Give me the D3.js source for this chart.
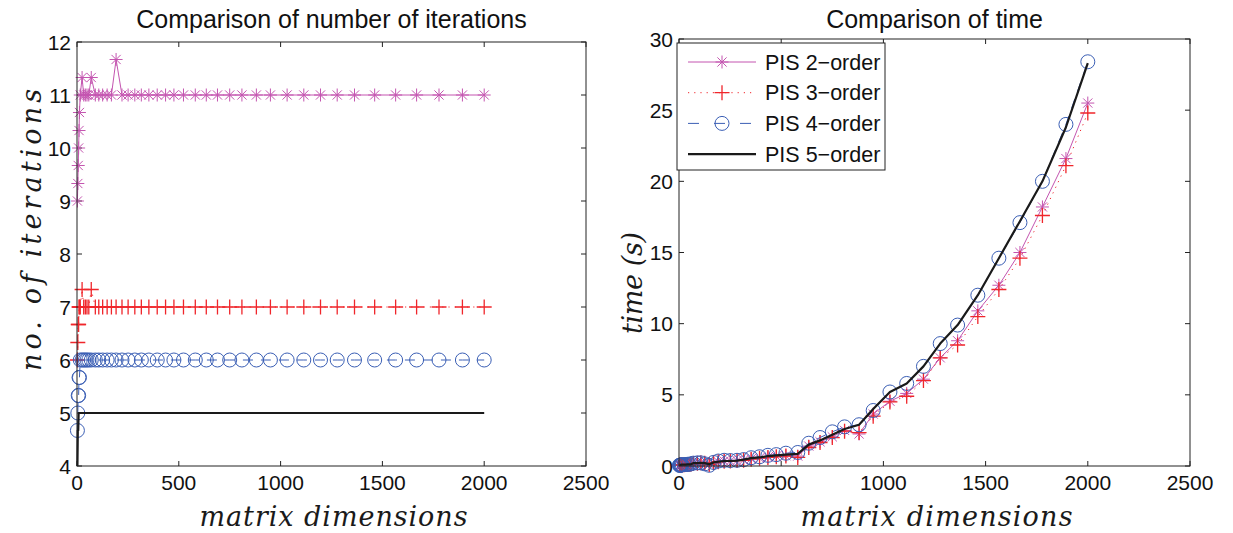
<!DOCTYPE html>
<html>
<head>
  <meta charset="utf-8">
  <title>PIS comparison</title>
  <script src="https://d3js.org/d3.v7.min.js"></script>
  <style>
    body { margin: 0; background: #fff; }
    text { font-family: "Liberation Sans", Arial, sans-serif; fill: #111; }
    .lab { font-family: "DejaVu Serif", "Liberation Serif", serif; font-style: italic; font-size: 27px; fill: #1a1a1a; }
    .tick { font-size: 21px; }
    .leg { font-size: 21.5px; }
    .title { font-size: 25px; }
  </style>
</head>
<body>
  <script>
    // matrix dimensions used in both plots
    var dims = [2, 4, 6, 8, 10, 12, 16, 25, 33, 41, 49, 58, 70, 90, 107, 126, 148, 169, 192,
                221, 251, 284, 316, 353, 394, 435, 476, 523, 581, 635, 690, 750, 810, 881, 950,
                1032, 1114, 1196, 1278, 1363, 1462, 1565, 1668, 1778, 1893, 2000];

    // number of iterations
    var iter2 = [9, 9.33, 9.67, 10, 10.33, 10.67, 11, 11.33, 11, 11, 11, 11, 11.33, 11, 11, 11, 11, 11, 11.67,
                 11, 11, 11, 11, 11, 11, 11, 11, 11, 11, 11, 11, 11, 11, 11, 11,
                 11, 11, 11, 11, 11, 11, 11, 11, 11, 11, 11];
    var iter3 = [6, 6.33, 6.67, 6.67, 7, 7, 7, 7.33, 7, 7, 7, 7, 7.33, 7, 7, 7, 7, 7, 7,
                 7, 7, 7, 7, 7, 7, 7, 7, 7, 7, 7, 7, 7, 7, 7, 7,
                 7, 7, 7, 7, 7, 7, 7, 7, 7, 7, 7];
    var iter4 = [4.67, 5, 5.33, 5.33, 5.67, 5.67, 6, 6, 6, 6, 6, 6, 6, 6, 6, 6, 6, 6, 6,
                 6, 6, 6, 6, 6, 6, 6, 6, 6, 6, 6, 6, 6, 6, 6, 6,
                 6, 6, 6, 6, 6, 6, 6, 6, 6, 6, 6];
    var iter5 = [4, 4.67, 4.67, 5, 5, 5, 5, 5, 5, 5, 5, 5, 5, 5, 5, 5, 5, 5, 5,
                 5, 5, 5, 5, 5, 5, 5, 5, 5, 5, 5, 5, 5, 5, 5, 5,
                 5, 5, 5, 5, 5, 5, 5, 5, 5, 5, 5];

    // time (s)
    var time2 = [0.05, 0.05, 0.05, 0.06, 0.06, 0.07, 0.08, 0.08, 0.1, 0.1, 0.1, 0.12, 0.18, 0.2, 0.22, 0.2, 0.1, 0.22, 0.3,
                 0.35, 0.35, 0.38, 0.42, 0.5, 0.55, 0.62, 0.68, 0.72, 0.7, 1.4, 1.7, 2.05, 2.5, 2.25, 3.65,
                 4.55, 5.1, 6.1, 7.6, 8.8, 10.9, 12.7, 15.0, 18.2, 21.6, 25.5];
    var time3 = [0.05, 0.05, 0.05, 0.06, 0.06, 0.07, 0.08, 0.08, 0.1, 0.1, 0.1, 0.12, 0.18, 0.2, 0.22, 0.2, 0.1, 0.22, 0.3,
                 0.33, 0.35, 0.38, 0.4, 0.48, 0.55, 0.6, 0.65, 0.7, 0.6, 1.3, 1.65, 2.0, 2.45, 2.35, 3.5,
                 4.5, 4.9, 6.0, 7.6, 8.5, 10.5, 12.4, 14.6, 17.6, 21.1, 24.8];
    var time4 = [0.05, 0.05, 0.06, 0.06, 0.07, 0.08, 0.08, 0.1, 0.1, 0.12, 0.12, 0.15, 0.2, 0.22, 0.22, 0.15, 0.05, 0.25, 0.35,
                 0.4, 0.38, 0.4, 0.45, 0.58, 0.65, 0.75, 0.8, 0.9, 0.95, 1.6, 2.0, 2.4, 2.75, 2.9, 3.9,
                 5.2, 5.8, 7.0, 8.6, 9.9, 12.0, 14.6, 17.1, 20.0, 24.0, 28.4];
    var time5 = [0.08, 0.08, 0.08, 0.08, 0.08, 0.1, 0.1, 0.1, 0.1, 0.12, 0.12, 0.12, 0.2, 0.2, 0.22, 0.2, 0.12, 0.25, 0.3,
                 0.35, 0.35, 0.38, 0.45, 0.55, 0.6, 0.7, 0.75, 0.8, 0.85, 1.5, 1.8, 2.2, 2.6, 2.9, 4.0,
                 5.2, 5.8, 7.0, 8.6, 9.9, 12.0, 14.6, 17.2, 20.0, 23.8, 28.3];

    var xTicks = [0, 500, 1000, 1500, 2000, 2500];
    var iterTicks = [4, 5, 6, 7, 8, 9, 10, 11, 12];
    var timeTicks = [0, 5, 10, 15, 20, 25, 30];
    var names = ["PIS 2\u2212order", "PIS 3\u2212order", "PIS 4\u2212order", "PIS 5\u2212order"];

    var styles = [
      {color: "#c455b0", width: 1, dash: null, marker: "star"},
      {color: "#f0262b", width: 1, dash: "1.2,5", marker: "plus"},
      {color: "#3b5fb5", width: 1, dash: "10,8", marker: "circle"},
      {color: "#1a1a1a", width: 2.2, dash: null, marker: null}
    ];

    var svg = d3.select("body").append("svg")
        .attr("width", 1233)
        .attr("height", 533);

    function markerPath(type) {
      if (type === "star") {
        var s = 6.5, d = 4.6;
        return "M" + (-s) + ",0H" + s + "M0," + (-s) + "V" + s +
               "M" + (-d) + "," + (-d) + "L" + d + "," + d + "M" + (-d) + "," + d + "L" + d + "," + (-d);
      }
      if (type === "plus") {
        var p = 7.5;
        return "M" + (-p) + ",0H" + p + "M0," + (-p) + "V" + p;
      }
      return null;
    }

    function drawMarker(g, type, color, cx, cy) {
      if (type === "circle") {
        g.append("circle").attr("cx", cx).attr("cy", cy).attr("r", 7)
          .attr("fill", "none").attr("stroke", color).attr("stroke-width", 1);
      } else if (type) {
        g.append("path").attr("transform", "translate(" + cx + "," + cy + ")")
          .attr("d", markerPath(type)).attr("fill", "none")
          .attr("stroke", color).attr("stroke-width", type === "plus" ? 1.3 : 1);
      }
    }

    function panel(o) {
      var x = d3.scaleLinear().domain([0, 2500]).range([o.left, o.right]);
      var y = d3.scaleLinear().domain(o.yDomain).range([o.bottom, o.top]);
      var g = svg.append("g");

      // ticks inside on all four sides
      var tl = 5;
      var frame = g.append("g").attr("stroke", "#222").attr("stroke-width", 1).attr("fill", "none");
      xTicks.forEach(function (t) {
        frame.append("line").attr("x1", x(t)).attr("x2", x(t)).attr("y1", o.bottom).attr("y2", o.bottom - tl);
        frame.append("line").attr("x1", x(t)).attr("x2", x(t)).attr("y1", o.top).attr("y2", o.top + tl);
      });
      o.yTicks.forEach(function (t) {
        frame.append("line").attr("x1", o.left).attr("x2", o.left + tl).attr("y1", y(t)).attr("y2", y(t));
        frame.append("line").attr("x1", o.right).attr("x2", o.right - tl).attr("y1", y(t)).attr("y2", y(t));
      });

      g.selectAll(".xl").data(xTicks).enter().append("text")
        .attr("class", "tick").attr("x", function (d) { return x(d); }).attr("y", o.bottom + 24)
        .attr("text-anchor", "middle").text(function (d) { return d; });
      g.selectAll(".yl").data(o.yTicks).enter().append("text")
        .attr("class", "tick").attr("x", o.left - 6).attr("y", function (d) { return y(d) + 7.5; })
        .attr("text-anchor", "end").text(function (d) { return d; });

      // series
      o.series.forEach(function (vals, i) {
        var st = styles[i];
        var pts = dims.map(function (d, k) { return [x(d), y(vals[k])]; });
        g.append("path").attr("d", d3.line()(pts)).attr("fill", "none")
          .attr("stroke", st.color).attr("stroke-width", st.width)
          .attr("stroke-dasharray", st.dash)
          .attr("stroke-linejoin", "round");
        pts.forEach(function (p) { drawMarker(g, st.marker, st.color, p[0], p[1]); });
      });

      g.append("rect").attr("x", o.left).attr("y", o.top)
        .attr("width", o.right - o.left).attr("height", o.bottom - o.top)
        .attr("fill", "none").attr("stroke", "#222").attr("stroke-width", 1);

      g.append("text").attr("class", "title").attr("x", (o.left + o.right) / 2).attr("y", 28)
        .attr("text-anchor", "middle").text(o.title);

      g.append("text").attr("class", "lab").attr("x", (o.left + o.right) / 2 + o.xlabShift).attr("y", 526)
        .attr("text-anchor", "middle").attr("textLength", o.xlabLen).attr("lengthAdjust", "spacing")
        .text("matrix dimensions");

      g.append("text").attr("class", "lab")
        .attr("transform", "translate(" + o.ylabX + "," + o.ylabY + ") rotate(-90)")
        .attr("text-anchor", "middle").attr("textLength", o.ylabLen).attr("lengthAdjust", "spacing")
        .text(o.ylab);

      return {x: x, y: y, g: g};
    }

    panel({
      left: 77, right: 586, top: 42, bottom: 466,
      yDomain: [4, 12], yTicks: iterTicks,
      series: [iter2, iter3, iter4, iter5],
      title: "Comparison of number of iterations",
      ylab: "no. of iterations", ylabX: 41, ylabY: 230, ylabLen: 282,
      xlabShift: 2, xlabLen: 268
    });

    var right = panel({
      left: 679, right: 1190, top: 39, bottom: 466,
      yDomain: [0, 30], yTicks: timeTicks,
      series: [time2, time3, time4, time5],
      title: "Comparison of time",
      ylab: "time (s)", ylabX: 642, ylabY: 283, ylabLen: 102,
      xlabShift: 2, xlabLen: 272
    });

    // legend
    var lg = right.g.append("g");
    lg.append("rect").attr("x", 677).attr("y", 43).attr("width", 208).attr("height", 127)
      .attr("fill", "#fff").attr("stroke", "#222").attr("stroke-width", 1);
    names.forEach(function (n, i) {
      var st = styles[i];
      var ly = 62 + i * 30.7;
      lg.append("line").attr("x1", 688).attr("x2", 756).attr("y1", ly).attr("y2", ly)
        .attr("stroke", st.color).attr("stroke-width", st.width)
        .attr("stroke-dasharray", st.dash === "10,8" ? "11,15" : st.dash);
      drawMarker(lg, st.marker, st.color, 722, ly);
      lg.append("text").attr("class", "leg").attr("x", 765).attr("y", ly + 7.5).text(n);
    });
  </script>
</body>
</html>
